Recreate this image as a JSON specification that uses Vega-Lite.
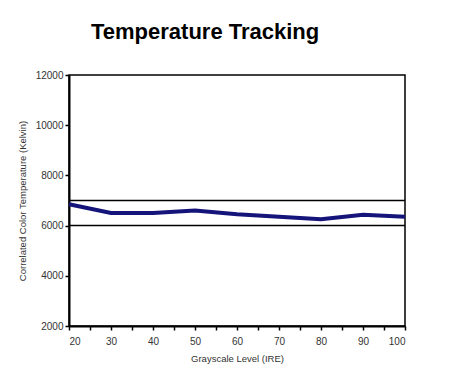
{
  "$schema": "https://vega.github.io/schema/vega-lite/v6.json",
  "autosize": "none",
  "width": 336,
  "height": 251,
  "padding": {"left": 69, "top": 75, "right": 45, "bottom": 50},
  "background": "white",
  "config": {
    "font": "Liberation Sans",
    "view": {"stroke": "#000000", "strokeWidth": 1.5},
    "axis": {"domainColor": "#000000", "domainWidth": 2, "tickColor": "#000000", "tickWidth": 1.5, "tickSize": 4, "labelFont": "Liberation Sans", "labelFontSize": 10, "labelColor": "#333333", "titleFont": "Liberation Sans", "titleFontSize": 9.5, "titleFontWeight": "normal", "titleColor": "#333333", "grid": false}
  },
  "title": {"text": "Temperature Tracking", "font": "Liberation Sans", "fontSize": 22, "fontWeight": "bold", "color": "#000000", "anchor": "start", "frame": "group", "dx": 22, "offset": 26},
  "layer": [
    {
      "data": {"values": [
        {"level": 20, "kelvin": 6850},
        {"level": 30, "kelvin": 6500},
        {"level": 40, "kelvin": 6500},
        {"level": 50, "kelvin": 6600},
        {"level": 60, "kelvin": 6450},
        {"level": 70, "kelvin": 6350},
        {"level": 80, "kelvin": 6250},
        {"level": 90, "kelvin": 6430},
        {"level": 100, "kelvin": 6350}
      ]},
      "mark": {"type": "line", "color": "#14147a", "strokeWidth": 4},
      "encoding": {
        "x": {"field": "level", "type": "quantitative", "scale": {"domain": [20, 100], "nice": false},
          "axis": {"title": "Grayscale Level (IRE)", "values": [20,25,30,35,40,45,50,55,60,65,70,75,80,85,90,95,100], "labelExpr": "datum.value % 10 == 0 ? datum.label : ''", "labelPadding": 6, "titlePadding": 7}},
        "y": {"field": "kelvin", "type": "quantitative", "scale": {"domain": [2000, 12000], "nice": false, "zero": false},
          "axis": {"title": "Correlated Color Temperature (Kelvin)", "values": [2000,3000,4000,5000,6000,7000,8000,9000,10000,11000,12000], "format": "d", "labelExpr": "datum.value % 2000 == 0 ? datum.label : ''", "titlePadding": 8}}
      }
    },
    {
      "data": {"values": [{"ref": 6000}, {"ref": 7000}]},
      "mark": {"type": "rule", "color": "#000000", "strokeWidth": 1.5},
      "encoding": {"y": {"field": "ref", "type": "quantitative"}}
    }
  ]
}
